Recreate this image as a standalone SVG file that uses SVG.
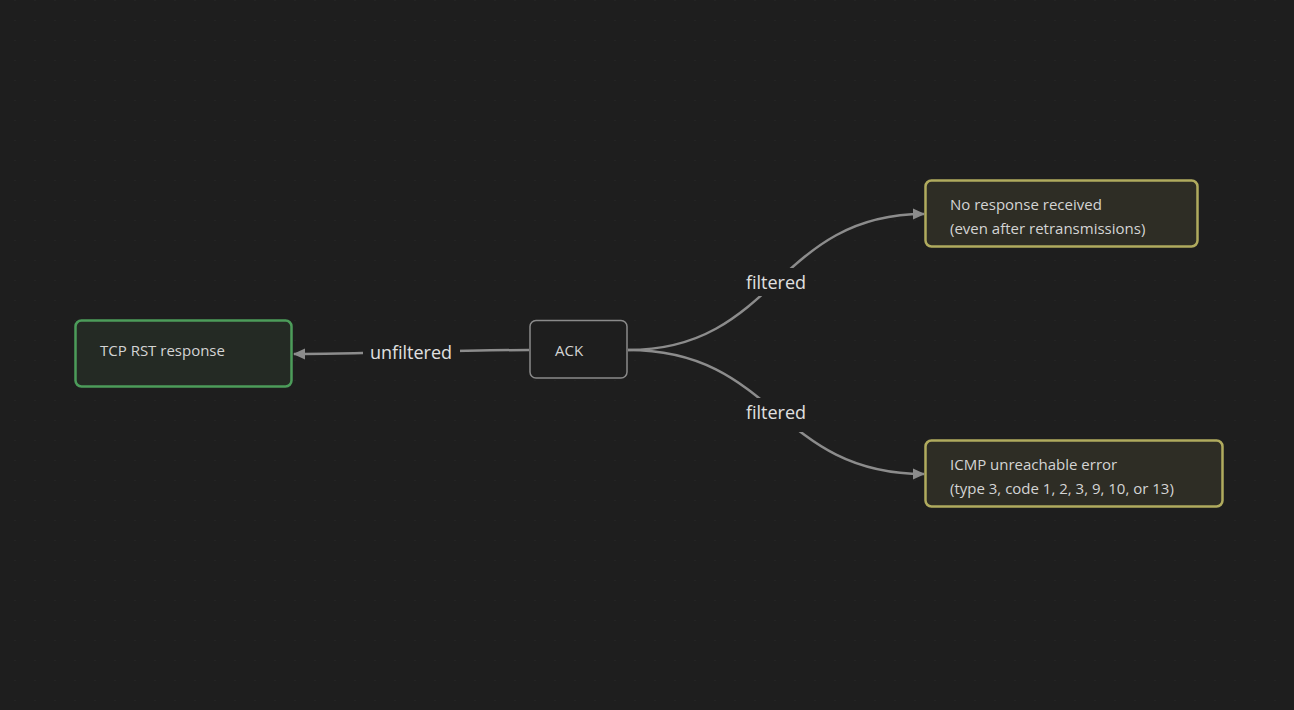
<svg xmlns="http://www.w3.org/2000/svg" width="1294" height="710" viewBox="0 0 1294 710">
<defs>
<pattern id="dots" x="0" y="0" width="20" height="20" patternUnits="userSpaceOnUse">
<rect x="14.5" y="-0.5" width="1" height="1" fill="#343434"/>
</pattern>
<marker id="arr" viewBox="0 0 12 12" refX="11" refY="6" markerWidth="12" markerHeight="12" markerUnits="userSpaceOnUse" orient="auto">
<path d="M0,0.5 L12,6 L0,11.5 z" fill="#8c8c8c"/>
</marker>
<style>
.edge{fill:none;stroke:#8c8c8c;stroke-width:2.5}
.lbl{font-family:"Open Sans","Noto Sans",sans-serif;font-size:18px;fill:#e0e0e0;text-anchor:middle}
.lblbg{fill:#1e1e1e}
.txt{font-family:"Open Sans","Noto Sans",sans-serif;font-size:15px;fill:#d4d4d4}
.green{fill:#242a24;stroke:#4c9c5a;stroke-width:2.5}
.gray{fill:#1e1e1e;stroke:#8a8a8a;stroke-width:1.5}
.yellow{fill:#2e2d25;stroke:#b0ab5e;stroke-width:2.5}
</style>
</defs>
<rect width="1294" height="710" fill="#1e1e1e"/>
<rect width="1294" height="710" fill="url(#dots)"/>
<g id="connectors">
<path class="edge" d="M529,350 C460,350 360,354 294,354" marker-end="url(#arr)"/>
<rect class="lblbg" x="363" y="340" width="97" height="26"/>
<text class="lbl" x="411" y="359">unfiltered</text>
<path class="edge" d="M628,350 C776,350 776,214 924,214" marker-end="url(#arr)"/>
<rect class="lblbg" x="742" y="268" width="68" height="28"/>
<text class="lbl" x="776" y="289">filtered</text>
<path class="edge" d="M628,350 C776,350 776,474 924,474" marker-end="url(#arr)"/>
<rect class="lblbg" x="742" y="398" width="68" height="34"/>
<text class="lbl" x="776" y="419">filtered</text>
</g>
<g id="tcp-rst">
<rect class="green" x="75.5" y="320.5" width="216" height="66" rx="6"/>
<text class="txt" x="100" y="356">TCP RST response</text>
</g>
<g id="ack">
<rect class="gray" x="530" y="320.5" width="97" height="57.5" rx="6"/>
<text class="txt" x="555" y="356">ACK</text>
</g>
<g id="no-response">
<rect class="yellow" x="925.5" y="180.5" width="272" height="66" rx="6"/>
<text class="txt" x="950" y="210">No response received</text>
<text class="txt" x="950" y="234">(even after retransmissions)</text>
</g>
<g id="icmp">
<rect class="yellow" x="925.5" y="440.5" width="297" height="66" rx="6"/>
<text class="txt" x="950" y="470">ICMP unreachable error</text>
<text class="txt" x="950" y="494">(type 3, code 1, 2, 3, 9, 10, or 13)</text>
</g>
</svg>
